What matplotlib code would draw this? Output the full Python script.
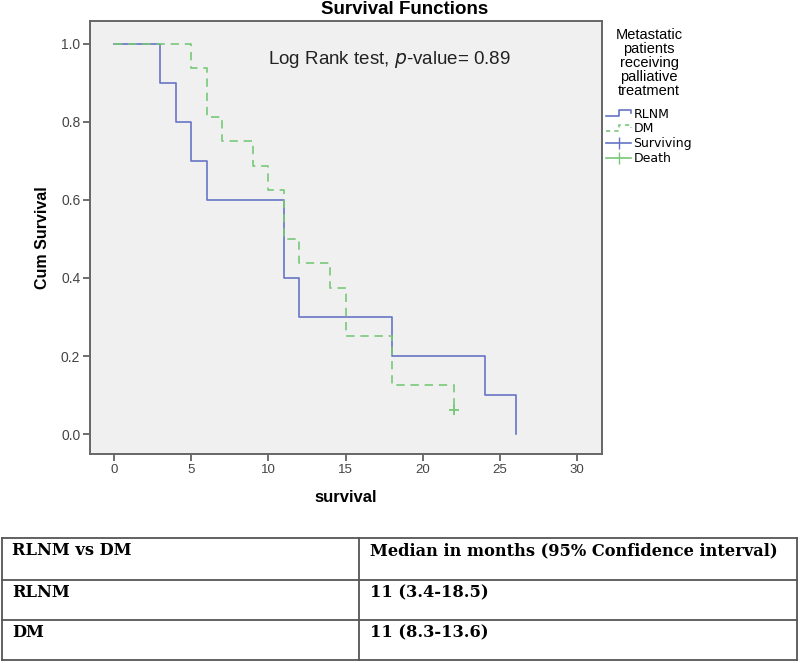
"""Kaplan-Meier survival plot (SPSS style) with a median survival table below."""

import matplotlib
matplotlib.use("Agg")
import matplotlib.pyplot as plt
from matplotlib.legend_handler import HandlerBase
from matplotlib.lines import Line2D

# survival curves
rlnm_time = [0, 3, 4, 5, 6, 11, 12, 18, 24, 26]
rlnm_surv = [1.0, 0.9, 0.8, 0.7, 0.6, 0.4, 0.3, 0.2, 0.1, 0.0]
dm_time = [0, 5, 6, 7, 9, 10, 11, 12, 14, 15, 18, 22]
dm_surv = [1.0, 0.9375, 0.8125, 0.75, 0.6875, 0.625, 0.5, 0.4375, 0.375, 0.25, 0.125, 0.0625]
dm_censor_time = [22]
dm_censor_surv = [0.0625]

x_ticks = [0, 5, 10, 15, 20, 25, 30]
y_ticks = [0.0, 0.2, 0.4, 0.6, 0.8, 1.0]

table_header = ["RLNM vs DM", "Median in months (95% Confidence interval)"]
table_groups = ["RLNM", "DM"]
table_medians = ["11 (3.4-18.5)", "11 (8.3-13.6)"]

BLUE = "#6674c6"
GREEN = "#78c878"
SANS = ["Liberation Sans", "DejaVu Sans"]
SERIF = ["DejaVu Serif"]


class StepHandler(HandlerBase):
    def create_artists(self, legend, orig_handle, xdescent, ydescent, width, height, fontsize, trans):
        xs = [0, 0.5 * width, 0.5 * width, width, width]
        ys = [0.2 * height, 0.2 * height, 0.85 * height, 0.85 * height, 0.5 * height]
        line = Line2D([x - xdescent for x in xs], [y - ydescent for y in ys],
                      color=orig_handle.get_color(), linestyle=orig_handle.get_linestyle(),
                      linewidth=orig_handle.get_linewidth(), transform=trans)
        if orig_handle.get_linestyle() != "-":
            line.set_dashes((2.5, 2.5))
        return [line]


fig = plt.figure(figsize=(8, 6.63), dpi=100)
ax = fig.add_axes([0.1125, 0.3152, 0.64, 0.6531])
ax.set_facecolor("#f0f0f0")

ax.step(rlnm_time, rlnm_surv, where="post", color=BLUE, linewidth=1.2)
ax.step(dm_time, dm_surv, where="post", color=GREEN, linewidth=1.2, dashes=(5, 3.5))
ax.plot(dm_censor_time, dm_censor_surv, "+", color=GREEN, markersize=7, markeredgewidth=1.3)

ax.set_xlim(-1.56, 31.6)
ax.set_ylim(-0.051, 1.058)
ax.set_xticks(x_ticks)
ax.set_yticks(y_ticks)
ax.set_xticklabels([str(t) for t in x_ticks], family=SANS, fontsize=9.5, color="#444444")
ax.set_yticklabels([f"{t:.1f}" for t in y_ticks], family=SANS, fontsize=10, color="#444444")
ax.tick_params(direction="out", length=5, width=1.2, color="#555555", pad=2)
for spine in ax.spines.values():
    spine.set_color("#666666")
    spine.set_linewidth(1.4)

ax.set_xlabel("survival", family=SANS, fontsize=12, fontweight="bold", labelpad=10)
ax.set_ylabel("Cum Survival", family=SANS, fontsize=11.5, fontweight="bold", labelpad=8)
ax.text(0.348, 0.91, "Log Rank test, $\\it{p}$-value= 0.89", transform=ax.transAxes,
        va="center", family=SANS, fontsize=13.5, color="#222222")
fig.text(0.506, 1 - 9 / 663, "Survival Functions", ha="center", va="center",
         family=SANS, fontsize=13.5, fontweight="bold")

handles = [
    Line2D([], [], color=BLUE, linewidth=1.2),
    Line2D([], [], color=GREEN, linewidth=1.2, linestyle="--"),
    Line2D([], [], color=BLUE, linewidth=1.2, marker="|", markersize=8),
    Line2D([], [], color=GREEN, linewidth=1.2, marker="|", markersize=8),
]
labels = ["RLNM", "DM", "Surviving", "Death"]
leg = ax.legend(handles, labels, title="Metastatic\npatients\nreceiving\npalliative\ntreatment",
                loc="upper left", bbox_to_anchor=(606 / 800, 1 - 28 / 663),
                bbox_transform=fig.transFigure, frameon=False, borderaxespad=0, borderpad=0,
                prop={"family": "DejaVu Sans", "size": 9},
                title_fontproperties={"family": "Liberation Sans", "size": 10.5},
                handlelength=2.0, handletextpad=0.2, labelspacing=0.14, alignment="center",
                handler_map={handles[0]: StepHandler(), handles[1]: StepHandler()})
leg.get_title().set_multialignment("center")
leg.get_title().set_linespacing(1.0)
leg._legend_box.sep = 7

# table below the chart
W, H = 800, 663
x_left, x_mid, x_right = 2, 359, 797
row_lines = [538, 580, 620, 660]
for y in row_lines:
    fig.add_artist(Line2D([x_left / W, x_right / W], [1 - y / H, 1 - y / H],
                          color="#555555", linewidth=1.3, transform=fig.transFigure))
for x in [x_left, x_mid, x_right]:
    fig.add_artist(Line2D([x / W, x / W], [1 - row_lines[0] / H, 1 - row_lines[-1] / H],
                          color="#555555", linewidth=1.3, transform=fig.transFigure))

rows = [table_header] + [[g, m] for g, m in zip(table_groups, table_medians)]
for i, (first, second) in enumerate(rows):
    y = 1 - (row_lines[i] + 4) / H
    fig.text(12 / W, y, first, ha="left", va="top", family=SERIF, fontsize=11.7, fontweight="bold")
    fig.text(370 / W, y, second, ha="left", va="top", family=SERIF, fontsize=11.7, fontweight="bold")

fig.savefig("out.png", dpi=100)
